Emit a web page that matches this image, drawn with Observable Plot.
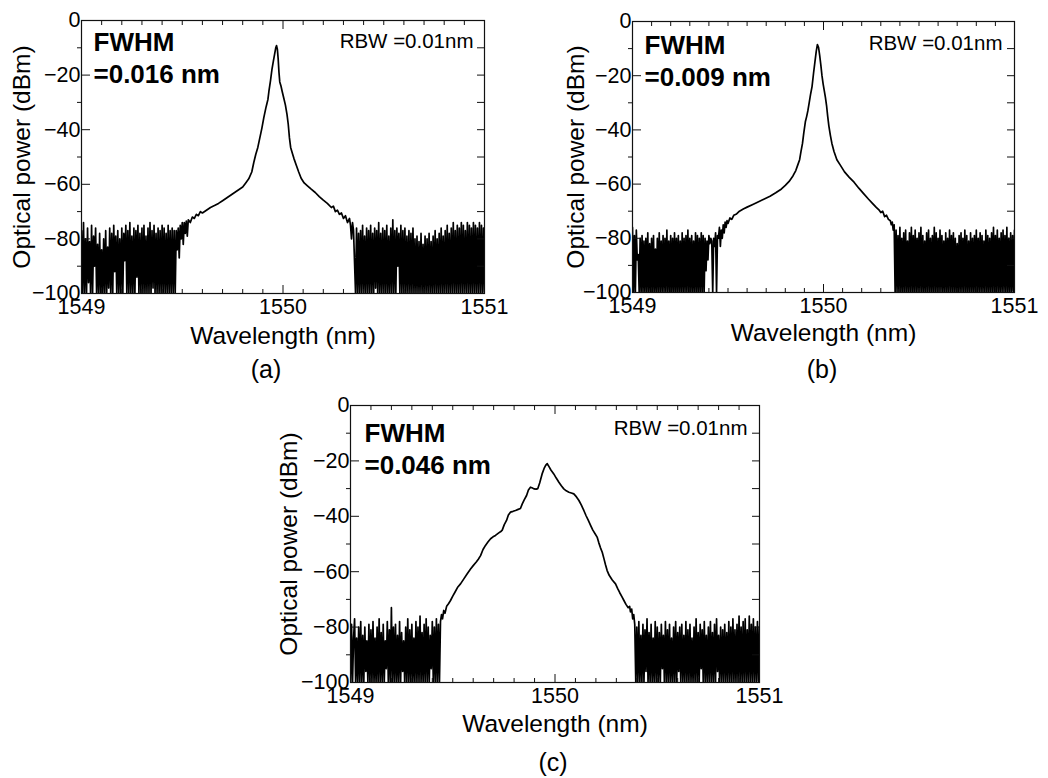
<!DOCTYPE html>
<html>
<head>
<meta charset="utf-8">
<script src="https://cdn.jsdelivr.net/npm/d3@7"></script>
<script src="https://cdn.jsdelivr.net/npm/@observablehq/plot@0.6"></script>
<style>
  body { margin: 0; background: #fff; }
  #wrap { position: relative; width: 1048px; height: 778px; background: #fff; font-family: "Liberation Sans", Arial, sans-serif; color: #000; }
  .panel { position: absolute; }
  .cap { position: absolute; font-size: 25px; line-height: 25px; transform: translateX(-50%); white-space: nowrap; }
</style>
</head>
<body>
<div id="wrap"></div>
<script>
// ---------- data ----------
const STEP = 0.005; // OSA sampling step (nm) used for the noise-floor arrays

const xMajor = [1549, 1550, 1551];
const xMinor = [1549.1,1549.2,1549.3,1549.4,1549.5,1549.6,1549.7,1549.8,1549.9,1550.1,1550.2,1550.3,1550.4,1550.5,1550.6,1550.7,1550.8,1550.9];
const yLabels = [0, -20, -40, -60, -80, -100];
const yMajorTicks = [-20, -40, -60, -80];
const yMinorTicks = [-10, -30, -50, -70, -90];
const yAllTicks = [-10, -20, -30, -40, -50, -60, -70, -80, -90];

const fwhmTitle = "FWHM";
const fwhmValues = ["=0.016 nm", "=0.009 nm", "=0.046 nm"];
const rbwLabel = "RBW =0.01nm";
const panelCaps = ["(a)", "(b)", "(c)"];

// panel (a)
const aNoiseLStart = 1549.000;
const aNoiseL = [
-77,-100,-74,-100,-80,-100,-76,-96,-81,-100,-75,-100,-79,-90,-76,-100,-82,-100,-78,-100,
-84,-100,-80,-100,-77,-100,-83,-98,-76,-100,-78,-100,-75,-92,-79,-100,-77,-100,-80,-100,
-76,-100,-78,-88,-75,-100,-77,-100,-74,-100,-79,-100,-76,-100,-77,-94,-75,-100,-78,-100,
-76,-100,-75,-100,-79,-100,-76,-100,-74,-100,-77,-98,-75,-100,-78,-100,-76,-100,-77,-100,
-75,-100,-76,-100,-78,-100,-75,-100,-77,-100,-76,-100,-77,-100];
const aSignal = [
[1549.470,-77],[1549.475,-84],[1549.480,-76],[1549.485,-87],[1549.490,-75],[1549.495,-80],
[1549.500,-74],[1549.505,-82],[1549.510,-74],[1549.515,-78],[1549.520,-73.5],[1549.525,-79],
[1549.530,-73],[1549.540,-74],[1549.550,-72],[1549.560,-72.5],[1549.570,-71],[1549.580,-71.5],
[1549.590,-70],[1549.600,-70.5],[1549.620,-69.5],[1549.640,-68.5],[1549.660,-67.8],[1549.680,-67],
[1549.700,-66],[1549.720,-65],[1549.740,-64],[1549.760,-63],[1549.780,-62],[1549.800,-61],
[1549.815,-59.5],[1549.830,-58],[1549.845,-55.5],[1549.855,-52],[1549.865,-49],[1549.875,-46.5],
[1549.885,-43],[1549.895,-39.5],[1549.905,-35.5],[1549.915,-32],[1549.920,-30.5],[1549.925,-29],
[1549.930,-26],[1549.938,-22],[1549.945,-18],[1549.952,-15],[1549.958,-12.5],[1549.964,-10],
[1549.968,-9.2],[1549.972,-10.5],[1549.976,-14],[1549.980,-19],[1549.984,-22.5],[1549.990,-24],
[1549.996,-26],[1550.004,-28.5],[1550.012,-31],[1550.020,-34.5],[1550.026,-38],[1550.032,-43],
[1550.038,-46.5],[1550.046,-48.5],[1550.054,-50.5],[1550.066,-53],[1550.078,-55.5],[1550.090,-57.8],
[1550.105,-59.5],[1550.120,-60.5],[1550.140,-61.8],[1550.160,-63],[1550.180,-64.5],[1550.200,-65.8],
[1550.220,-67],[1550.240,-68.5],[1550.250,-68],[1550.260,-70],[1550.270,-69.5],[1550.280,-71],
[1550.290,-70.5],[1550.300,-72.5],[1550.310,-71.5],[1550.320,-74],[1550.330,-72.5],[1550.335,-75],
[1550.340,-80],[1550.345,-74],[1550.350,-77]];
const aNoiseRStart = 1550.360;
const aNoiseR = [
-100,-76,-100,-78,-100,-77,-100,-75,-100,-79,
-100,-76,-100,-77,-100,-75,-100,-78,-100,-76,
-98,-77,-100,-74,-100,-78,-100,-76,-100,-77,
-100,-75,-100,-79,-100,-76,-100,-73,-100,-77,
-100,-76,-90,-78,-100,-75,-100,-77,-100,-76,
-100,-79,-100,-77,-100,-78,-100,-76,-100,-80,
-100,-79,-100,-81,-100,-78,-100,-82,-100,-79,
-100,-80,-100,-78,-100,-81,-100,-79,-100,-77,
-100,-80,-100,-78,-100,-76,-100,-79,-100,-77,
-100,-75,-100,-78,-100,-76,-100,-74,-100,-77,
-100,-75,-100,-76,-100,-74,-100,-75,-100,-77,
-100,-74,-100,-75,-100,-76,-100,-74,-100,-75,
-100,-76,-100,-74,-100,-75,-100,-76,-100];

// panel (b)
const bNoiseLStart = 1549.000;
const bNoiseL = [
-76,-100,-79,-100,-77,-88,-86,-100,-80,-100,
-79,-100,-81,-100,-80,-100,-78,-100,-82,-100,
-80,-100,-79,-100,-84,-100,-80,-100,-78,-100,
-81,-100,-79,-100,-80,-100,-77,-100,-81,-100,
-79,-100,-80,-100,-78,-100,-80,-100,-79,-100,
-81,-100,-78,-100,-80,-100,-79,-100,-77,-100,
-80,-100,-79,-100,-81,-100,-78,-100,-79,-100,
-80,-100,-78,-100,-79,-100,-80,-92,-81,-88,
-79,-82,-80,-81,-100,-80,-83,-78,-100];
const bSignal = [
[1549.445,-79],[1549.450,-80],[1549.455,-76],[1549.460,-83],[1549.465,-77],[1549.470,-80],
[1549.475,-75],[1549.480,-78],[1549.485,-74],[1549.490,-76],[1549.495,-73.5],[1549.500,-74.5],
[1549.510,-72.5],[1549.520,-73],[1549.530,-71.5],[1549.545,-71],[1549.560,-70],[1549.580,-69.2],
[1549.600,-68.5],[1549.630,-67.5],[1549.660,-66.5],[1549.690,-65.5],[1549.720,-64.5],[1549.750,-63.2],
[1549.780,-61.8],[1549.800,-60.5],[1549.820,-59],[1549.840,-57],[1549.855,-55],[1549.865,-53],
[1549.875,-51],[1549.882,-48],[1549.890,-45],[1549.897,-41],[1549.905,-37],[1549.912,-35],
[1549.918,-33],[1549.925,-30],[1549.932,-27],[1549.940,-24],[1549.948,-19],[1549.955,-15],
[1549.962,-11],[1549.968,-8.5],[1549.974,-9.5],[1549.980,-12.5],[1549.986,-16],[1549.992,-20],
[1549.998,-23],[1550.004,-25.5],[1550.010,-28],[1550.016,-31],[1550.022,-35],[1550.028,-38.5],
[1550.036,-42],[1550.044,-45],[1550.055,-48],[1550.070,-51],[1550.088,-53],[1550.110,-55.5],
[1550.135,-57.5],[1550.160,-59.3],[1550.185,-61.5],[1550.210,-63.5],[1550.235,-65.5],[1550.255,-67],
[1550.275,-68.5],[1550.290,-69.5],[1550.300,-70.5],[1550.310,-70],[1550.320,-72],[1550.330,-71.5],
[1550.340,-73],[1550.350,-73.5],[1550.355,-75],[1550.360,-74],[1550.365,-77],[1550.370,-75]];
const bNoiseRStart = 1550.375;
const bNoiseR = [
-100,-77,-100,-79,-100,-76,-100,-80,-100,-78,
-100,-77,-100,-81,-100,-78,-100,-76,-100,-79,
-100,-77,-100,-80,-100,-78,-100,-76,-100,-79,
-100,-81,-100,-78,-100,-77,-100,-80,-100,-79,
-100,-76,-100,-78,-100,-80,-100,-77,-100,-79,
-100,-81,-100,-78,-100,-80,-100,-77,-100,-79,
-100,-78,-100,-80,-100,-82,-100,-79,-100,-78,
-100,-80,-100,-77,-100,-79,-100,-81,-100,-78,
-100,-80,-100,-79,-100,-77,-100,-80,-100,-78,
-100,-79,-100,-81,-100,-77,-100,-79,-100,-80,
-100,-78,-100,-76,-100,-79,-100,-77,-100,-80,
-100,-78,-100,-77,-100,-79,-100,-76,-100,-80,
-100,-78,-100,-79,-100,-77];

// panel (c)
const cNoiseLStart = 1549.000;
const cNoiseL = [
-100,-79,-100,-84,-77,-100,-84,-100,-80,-100,
-78,-100,-83,-100,-80,-96,-85,-100,-79,-100,
-81,-100,-78,-100,-84,-100,-80,-100,-77,-100,
-82,-100,-79,-100,-85,-95,-78,-100,-81,-100,
-73,-100,-80,-100,-79,-100,-83,-100,-78,-100,
-82,-96,-85,-100,-80,-100,-77,-100,-81,-100,
-79,-100,-84,-100,-78,-100,-80,-100,-76,-100,
-82,-100,-79,-100,-77,-100,-80,-100,-83,-95,
-78,-100,-80,-100,-77,-100,-79,-100];
const cSignal = [
[1549.440,-78],[1549.445,-75.5],[1549.450,-77],[1549.456,-74],[1549.462,-75],[1549.470,-72.5],
[1549.480,-71.5],[1549.489,-70.4],[1549.500,-68.8],[1549.510,-67.5],[1549.525,-65.5],[1549.538,-64.4],
[1549.555,-62.5],[1549.570,-60.8],[1549.587,-59],[1549.600,-57.8],[1549.615,-56.5],[1549.625,-55.5],
[1549.636,-54.2],[1549.648,-52],[1549.660,-50.5],[1549.672,-49.3],[1549.685,-48.1],[1549.697,-47.4],
[1549.709,-46.9],[1549.725,-46],[1549.735,-45.5],[1549.742,-45],[1549.752,-43],[1549.763,-41.5],
[1549.772,-39.5],[1549.782,-38.5],[1549.795,-38.2],[1549.807,-37.9],[1549.820,-37.5],[1549.831,-37.2],
[1549.840,-35.5],[1549.850,-34],[1549.861,-32.5],[1549.870,-30.5],[1549.880,-29.5],[1549.890,-29.8],
[1549.897,-30.1],[1549.908,-30.2],[1549.916,-30],[1549.925,-28],[1549.937,-24.7],[1549.948,-22.5],
[1549.955,-21.5],[1549.962,-21],[1549.970,-22],[1549.980,-23.3],[1549.994,-24.7],[1550.006,-26.2],
[1550.019,-27.7],[1550.031,-29],[1550.043,-30.1],[1550.055,-30.8],[1550.068,-31.3],[1550.080,-31.6],
[1550.092,-31.9],[1550.105,-33],[1550.117,-34.3],[1550.129,-36],[1550.141,-37.9],[1550.152,-39.8],
[1550.163,-41.5],[1550.174,-43.3],[1550.185,-45],[1550.196,-46.3],[1550.206,-47.5],[1550.214,-49.5],
[1550.222,-51.3],[1550.231,-53],[1550.239,-55.2],[1550.247,-57.5],[1550.255,-59.6],[1550.265,-61.3],
[1550.280,-63],[1550.296,-64.4],[1550.306,-66],[1550.316,-67.5],[1550.327,-69],[1550.337,-70.4],
[1550.347,-71.8],[1550.358,-73],[1550.365,-72.5],[1550.369,-74.5],[1550.375,-73.5],[1550.380,-77],
[1550.385,-75.5],[1550.390,-79]];
const cNoiseRStart = 1550.395;
const cNoiseR = [
-100,-80,-100,-78,-100,-83,-100,-79,-100,-81,
-96,-77,-100,-82,-100,-79,-100,-84,-100,-78,
-100,-80,-100,-82,-100,-79,-95,-83,-100,-78,
-100,-81,-100,-79,-100,-84,-100,-80,-100,-78,
-100,-82,-96,-80,-100,-79,-100,-83,-100,-78,
-100,-81,-100,-79,-100,-84,-100,-80,-100,-77,
-100,-82,-100,-79,-95,-81,-100,-78,-100,-83,
-100,-80,-100,-78,-100,-82,-100,-79,-100,-77,
-96,-83,-100,-80,-100,-81,-100,-79,-100,-82,
-100,-78,-100,-80,-100,-77,-100,-81,-100,-79,
-100,-76,-100,-80,-100,-78,-100,-77,-100,-81,
-100,-76,-100,-79,-100,-77,-100,-80,-100,-78,
-100,-80];

// ---------- build ----------
function trace(startL, noiseL, sig, startR, noiseR) {
  const pts = [];
  noiseL.forEach((p, i) => pts.push({w: +(startL + i * STEP).toFixed(3), p}));
  sig.forEach(([w, p]) => pts.push({w, p}));
  noiseR.forEach((p, i) => pts.push({w: +(startR + i * STEP).toFixed(3), p}));
  return pts;
}

const traces = [
  trace(aNoiseLStart, aNoiseL, aSignal, aNoiseRStart, aNoiseR),
  trace(bNoiseLStart, bNoiseL, bSignal, bNoiseRStart, bNoiseR),
  trace(cNoiseLStart, cNoiseL, cSignal, cNoiseRStart, cNoiseR)
];

const layouts = [
  {left: 0,   top: 0,   width: 520, height: 350, mt: 20, mr: 36, mb: 57, ml: 81,  fdx: 12, fdy: 12, rdx: -11, rdy: 13, xlo: 50, ylo: 69},
  {left: 520, top: 0,   width: 528, height: 350, mt: 21, mr: 34, mb: 58, ml: 112, fdx: 12, fdy: 14, rdx: -12, rdy: 14, xlo: 48, ylo: 66},
  {left: 270, top: 360, width: 520, height: 380, mt: 45, mr: 31, mb: 58, ml: 80,  fdx: 14, fdy: 18, rdx: -12, rdy: 15, xlo: 49, ylo: 71}
];
const capPos = [{x: 266, y: 357}, {x: 822, y: 357}, {x: 553, y: 750}];

const wrap = document.getElementById("wrap");
const fmtX = d => String(d);
const fmtY = d => d < 0 ? "\u2212" + (-d) : String(d);
const ink = "#111";

traces.forEach((data, k) => {
  const L = layouts[k];
  const chart = Plot.plot({
    width: L.width, height: L.height,
    marginTop: L.mt, marginRight: L.mr, marginBottom: L.mb, marginLeft: L.ml,
    style: {fontFamily: '"Liberation Sans", Arial, sans-serif', background: "transparent", overflow: "visible", color: "#000"},
    x: {domain: [1549, 1551]},
    y: {domain: [-100, 0]},
    marks: [
      Plot.line(data, {x: "w", y: "p", stroke: "#000", strokeWidth: 1.7, clip: true}),
      Plot.frame({stroke: ink, strokeWidth: 1.2}),
      // inward ticks (x: every 0.1 nm, y: every 10 dB)
      Plot.axisX(xMinor, {anchor: "bottom", tickSize: -4, text: null, label: null, stroke: ink}),
      Plot.axisX(xMinor, {anchor: "top", tickSize: -4, text: null, label: null, stroke: ink}),
      Plot.axisX(xMajor, {anchor: "bottom", tickSize: -8, text: null, label: null, stroke: ink}),
      Plot.axisX(xMajor, {anchor: "top", tickSize: -8, text: null, label: null, stroke: ink}),
      Plot.axisY(yMajorTicks, {anchor: "left", tickSize: -9, text: null, label: null, stroke: ink}),
      Plot.axisY(yMinorTicks, {anchor: "left", tickSize: 4, text: null, label: null, stroke: ink}),
      Plot.axisY(yAllTicks, {anchor: "right", tickSize: -8, text: null, label: null, stroke: ink}),
      // tick labels
      Plot.axisX(xMajor, {anchor: "bottom", tickSize: 0, tickPadding: 5, fontSize: 21.5, tickFormat: fmtX, label: null}),
      Plot.axisY(yLabels, {anchor: "left", tickSize: 0, tickPadding: 1, fontSize: 21.5, tickFormat: fmtY, label: null}),
      // axis titles
      Plot.axisX({anchor: "bottom", tickSize: 0, text: null, fontSize: 24.5, label: "Wavelength (nm)", labelAnchor: "center", labelArrow: "none", labelOffset: L.xlo}),
      Plot.axisY({anchor: "left", tickSize: 0, text: null, fontSize: 24.5, label: "Optical power (dBm)", labelAnchor: "center", labelArrow: "none", labelOffset: L.ylo}),
      // annotations
      Plot.text([fwhmTitle], {frameAnchor: "top-left", textAnchor: "start", lineAnchor: "top", dx: L.fdx, dy: L.fdy, fontSize: 26, fontWeight: "bold", fill: "#000"}),
      Plot.text([fwhmValues[k]], {frameAnchor: "top-left", textAnchor: "start", lineAnchor: "top", dx: L.fdx, dy: L.fdy + 32, fontSize: 26, fontWeight: "bold", fill: "#000"}),
      Plot.text([rbwLabel], {frameAnchor: "top-right", textAnchor: "end", lineAnchor: "top", dx: L.rdx, dy: L.rdy, fontSize: 20.5, fill: "#000"})
    ]
  });
  chart.classList.add("panel");
  chart.style.left = L.left + "px";
  chart.style.top = L.top + "px";
  wrap.appendChild(chart);

  const cap = document.createElement("div");
  cap.className = "cap";
  cap.textContent = panelCaps[k];
  cap.style.left = capPos[k].x + "px";
  cap.style.top = capPos[k].y + "px";
  wrap.appendChild(cap);
});
</script>
</body>
</html>
